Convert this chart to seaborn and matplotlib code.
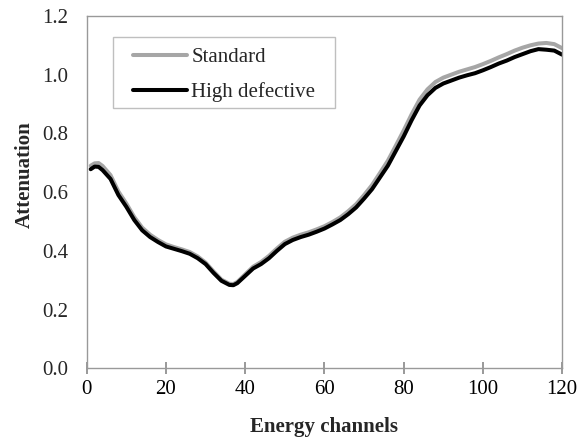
import numpy as np
import pandas as pd
import matplotlib
matplotlib.use('Agg')
import matplotlib.pyplot as plt
from matplotlib.patches import Rectangle
import seaborn as sns

# datos
channels = [1, 2, 3, 4, 6, 8, 10, 12, 14, 16, 18, 20, 22, 24, 26, 28, 30, 32, 34, 36,
            37, 38, 40, 42, 44, 46, 48, 50, 52, 54, 56, 58, 60, 62, 64, 66, 68, 70,
            72, 74, 76, 78, 80, 82, 84, 86, 88, 90, 92, 94, 96, 98, 100, 102, 104,
            106, 108, 110, 112, 114, 116, 118, 120]

standard = [0.690, 0.698, 0.699, 0.689, 0.658, 0.602, 0.561, 0.515, 0.479, 0.455,
            0.437, 0.422, 0.413, 0.405, 0.396, 0.381, 0.360, 0.330, 0.302, 0.288,
            0.287, 0.294, 0.320, 0.346, 0.362, 0.383, 0.408, 0.431, 0.445, 0.455,
            0.463, 0.473, 0.484, 0.498, 0.514, 0.535, 0.559, 0.590, 0.624, 0.665,
            0.707, 0.758, 0.810, 0.865, 0.915, 0.950, 0.975, 0.990, 1.000, 1.010,
            1.018, 1.026, 1.036, 1.047, 1.059, 1.070, 1.082, 1.092, 1.100, 1.106,
            1.108, 1.104, 1.090]

high_defective = [0.678, 0.687, 0.686, 0.675, 0.645, 0.590, 0.550, 0.505, 0.470, 0.447,
                  0.430, 0.415, 0.407, 0.399, 0.390, 0.375, 0.355, 0.325, 0.298, 0.284,
                  0.283, 0.290, 0.315, 0.340, 0.355, 0.375, 0.400, 0.423, 0.437, 0.447,
                  0.455, 0.465, 0.476, 0.490, 0.505, 0.525, 0.548, 0.578, 0.610, 0.650,
                  0.690, 0.740, 0.790, 0.845, 0.895, 0.930, 0.955, 0.970, 0.980, 0.990,
                  0.998, 1.005, 1.015, 1.026, 1.038, 1.048, 1.060, 1.070, 1.080, 1.087,
                  1.085, 1.082, 1.068]

series_names = ['Standard', 'High defective']
x_ticks = [0, 20, 40, 60, 80, 100, 120]
y_ticks = [0.0, 0.2, 0.4, 0.6, 0.8, 1.0, 1.2]

df = pd.DataFrame({
    'channel': channels * 2,
    'attenuation': standard + high_defective,
    'serie': [series_names[0]] * len(channels) + [series_names[1]] * len(channels),
})

sns.set_style('white')
plt.rcParams['font.family'] = ['Liberation Serif', 'DejaVu Serif']
plt.rcParams['font.size'] = 15
plt.rcParams['xtick.bottom'] = True
plt.rcParams['xtick.direction'] = 'inout'
plt.rcParams['xtick.major.size'] = 9
plt.rcParams['xtick.major.width'] = 1.2
plt.rcParams['xtick.color'] = '#888888'
plt.rcParams['xtick.labelcolor'] = 'black'
plt.rcParams['xtick.major.pad'] = 4
plt.rcParams['ytick.left'] = False

fig = plt.figure(figsize=(5.82, 4.43), dpi=100)
ax = fig.add_axes([0.149, 0.1686, 0.817, 0.7954])

sns.lineplot(data=df, x='channel', y='attenuation', hue='serie',
             palette={'Standard': '#a6a6a6', 'High defective': '#000000'},
             linewidth=2.9, ax=ax, legend=False)

ax.set_xlim(0, 120)
ax.set_ylim(0, 1.2)
ax.set_xticks(x_ticks)
ax.set_yticks(y_ticks)
ax.set_yticklabels([f'{v:.1f}' for v in y_ticks])

for s in ax.spines.values():
    s.set_color('#999999')
    s.set_linewidth(1.0)

ax.tick_params(axis='x', bottom=True, direction='inout', length=9, width=1.2,
               color='#888888', labelcolor='black', pad=4, labelsize=15)
ax.tick_params(axis='y', left=False, length=0, pad=13, labelsize=15)

ax.set_xlabel('Energy channels', fontweight='bold', fontsize=15, labelpad=13)
ax.set_ylabel('Attenuation', fontweight='bold', fontsize=15)
ax.yaxis.set_label_coords(-0.11, 0.551)

# leyenda sin marco + recuadro gris
handles = [plt.Line2D([], [], color='#a6a6a6', linewidth=2.9),
           plt.Line2D([], [], color='#000000', linewidth=2.9)]
ax.legend(handles, series_names, loc='upper left', bbox_to_anchor=(0.097, 0.91),
          borderaxespad=0, borderpad=0, frameon=False,
          handlelength=2.6, handletextpad=0.2, labelspacing=0.72, fontsize=15)
ax.add_patch(Rectangle((0.056, 0.7395), 0.467, 0.2015, transform=ax.transAxes,
                       fill=False, edgecolor='#bfbfbf', linewidth=1.0, zorder=5))

# forzar marcas del eje x visibles
for t in ax.xaxis.get_major_ticks():
    t.tick1line.set_visible(True)
    t.tick1line.set_clip_on(False)
    t.tick1line.set_zorder(10)
    t.tick1line.set_markeredgecolor('#888888')

plt.savefig('out.png', dpi=100)
plt.close()
